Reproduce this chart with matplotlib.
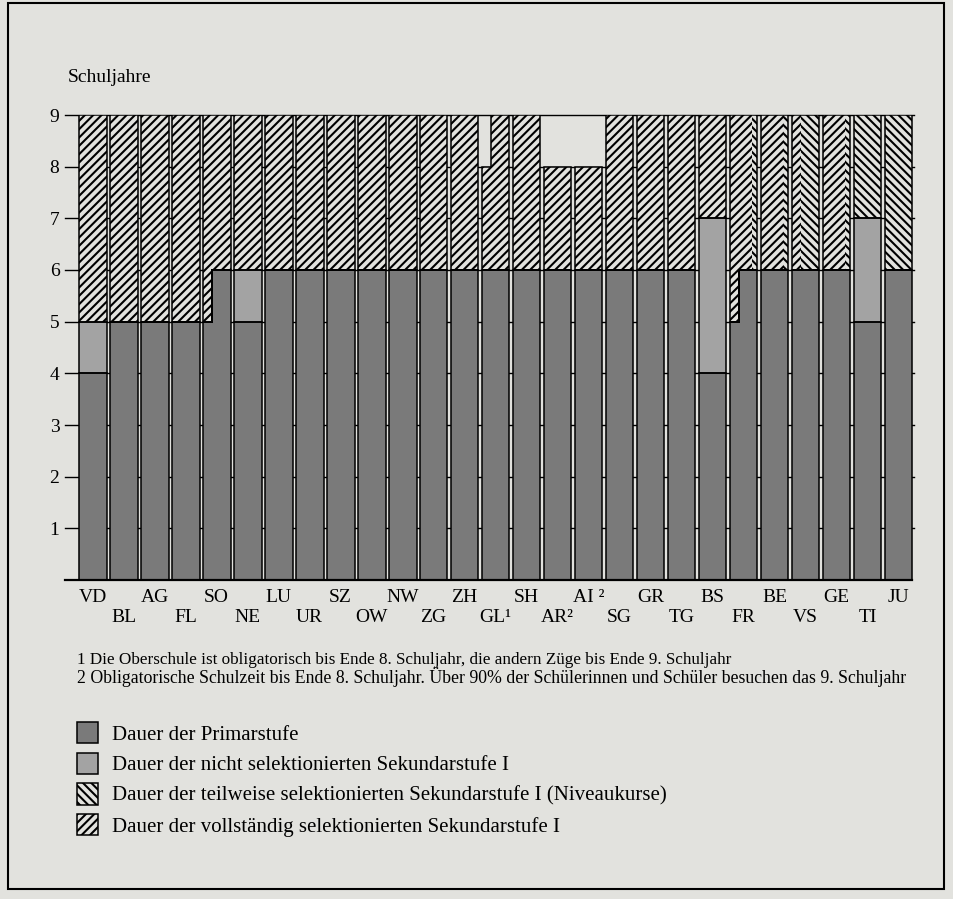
import numpy as np
import matplotlib.pyplot as plt
from matplotlib.patches import Patch, Polygon, Rectangle

plt.rcParams['font.family'] = ['Liberation Serif', 'DejaVu Serif']
plt.rcParams['hatch.linewidth'] = 1.5

# data: Schuljahre je Kanton
cantons = ["VD", "BL", "AG", "FL", "SO", "NE", "LU", "UR", "SZ", "OW", "NW", "ZG", "ZH", "GL\u00b9",
           "SH", "AR\u00b2", "AI \u00b2", "SG", "GR", "TG", "BS", "FR", "BE", "VS", "GE", "TI", "JU"]
primary = [4, 5, 5, 5, 6, 5, 6, 6, 6, 6, 6, 6, 6, 6, 6, 6, 6, 6, 6, 6, 4, 6, 6, 6, 6, 5, 6]
nonsel_end = [5, 5, 5, 5, 6, 6, 6, 6, 6, 6, 6, 6, 6, 6, 6, 6, 6, 6, 6, 6, 7, 6, 6, 6, 6, 7, 6]
total = [9, 9, 9, 9, 9, 9, 9, 9, 9, 9, 9, 9, 9, 9, 9, 8, 8, 9, 9, 9, 9, 9, 9, 9, 9, 9, 9]
# share of the selective part with Niveaukurse (drawn on the right side of the bar)
partial_share = [0, 0, 0, 0, 0, 0, 0, 0, 0, 0, 0, 0, 0, 0,
                 0, 0, 0, 0, 0, 0, 0, 0.2, 0.2, 0.65, 0.2, 1, 1]
# second stream drawn as narrow strip on the left of the bar (None = same as main)
strip_primary = [None, None, None, None, 5, None, None, None, None, None, None, None, None, None,
                 None, None, None, None, None, None, None, 5, None, None, None, None, None]
strip_total = [None, None, None, None, None, None, None, None, None, None, None, None, None, 8,
               None, None, None, None, None, None, None, None, None, None, None, None, None]

legend_labels = ["Dauer der Primarstufe",
                 "Dauer der nicht selektionierten Sekundarstufe I",
                 "Dauer der teilweise selektionierten Sekundarstufe I (Niveaukurse)",
                 "Dauer der vollständig selektionierten Sekundarstufe I"]
footnotes = ["1 Die Oberschule ist obligatorisch bis Ende 8. Schuljahr, die andern Züge bis Ende 9. Schuljahr",
             "2 Obligatorische Schulzeit bis Ende 8. Schuljahr. Über 90% der Schülerinnen und Schüler besuchen das 9. Schuljahr"]

BG = '#e2e2de'
C_PRIM = '#7a7a7a'
C_NONSEL = '#a3a3a3'
W = 954
H = 899


def step_poly(x0, w, sw, lo_l, lo_m, hi_l, hi_m):
    return [(x0, lo_l), (x0 + sw, lo_l), (x0 + sw, lo_m), (x0 + w, lo_m),
            (x0 + w, hi_m), (x0 + sw, hi_m), (x0 + sw, hi_l), (x0, hi_l)]


fig = plt.figure(figsize=(W / 100, H / 100), dpi=100, facecolor=BG)
ax = fig.add_axes([65 / W, 1 - 580 / H, 849 / W, 465 / H])
ax.set_facecolor(BG)
ax.set_xlim(-0.39, len(cantons))
ax.set_ylim(0, 9)

for y in range(1, 10):
    ax.axhline(y, color='black', lw=1.0, zorder=1, clip_on=False)

bw = 0.9
for i in range(len(cantons)):
    x0 = i + (1 - bw) / 2
    sw = 0.33 * bw
    p_m, n_m, t_m = primary[i], nonsel_end[i], total[i]
    p_l = strip_primary[i] if strip_primary[i] is not None else p_m
    n_l = strip_primary[i] if strip_primary[i] is not None else n_m
    t_l = strip_total[i] if strip_total[i] is not None else t_m

    parts = [
        (step_poly(x0, bw, sw, 0, 0, p_l, p_m), C_PRIM, None),
        (step_poly(x0, bw, sw, p_l, p_m, n_l, n_m), C_NONSEL, None),
        (step_poly(x0, bw, sw, n_l, n_m, t_l, t_m), BG, '////'),
    ]
    for verts, fc, hatch in parts:
        ax.add_patch(Polygon(verts, closed=True, facecolor=fc, edgecolor='black',
                             hatch=hatch, lw=0, zorder=2))
    if partial_share[i] > 0:
        pw = bw * partial_share[i]
        ax.add_patch(Rectangle((x0 + bw - pw, n_m), pw, t_m - n_m, facecolor=BG,
                               edgecolor='black', hatch='\\\\\\\\', lw=0, zorder=3))
    for verts, fc, hatch in parts:
        ax.add_patch(Polygon(verts, closed=True, fill=False, edgecolor='black',
                             lw=1.1, zorder=4))

for s in ['top', 'right', 'left']:
    ax.spines[s].set_visible(False)
ax.spines['bottom'].set_linewidth(1.6)
ax.spines['bottom'].set_bounds(-0.39, len(cantons) - 0.05)
ax.set_xticks([])
ax.set_yticks(range(1, 10))
ax.tick_params(axis='y', length=0, pad=4, labelsize=14)

for i, name in enumerate(cantons):
    ypos = -0.038 if i % 2 == 0 else -0.08
    ax.text(i + 0.5, ypos, name, transform=ax.get_xaxis_transform(),
            ha='center', va='center', fontsize=14)

fig.text(68 / W, 1 - 77 / H, "Schuljahre", fontsize=14, va='center', ha='left')

fig.text(77 / W, 1 - 660 / H, footnotes[0], fontsize=12.3, va='center', ha='left')
fig.text(77 / W, 1 - 677 / H, footnotes[1], fontsize=12.8, va='center', ha='left')

handles = [Patch(facecolor=C_PRIM, edgecolor='black', lw=1.1),
           Patch(facecolor=C_NONSEL, edgecolor='black', lw=1.1),
           Patch(facecolor=BG, edgecolor='black', hatch='\\\\\\\\', lw=1.1),
           Patch(facecolor=BG, edgecolor='black', hatch='////', lw=1.1)]
fig.legend(handles, legend_labels, loc='upper left', bbox_to_anchor=(77 / W, 1 - 722 / H),
           frameon=False, fontsize=15, handlelength=1.0, handleheight=1.2,
           labelspacing=0.38, handletextpad=0.7, borderpad=0, borderaxespad=0)

fig.add_artist(Rectangle((8 / W, 1 - 889 / H), 936 / W, 886 / H, transform=fig.transFigure,
                         fill=False, edgecolor='black', lw=1.5))

fig.savefig('out.png', dpi=100, facecolor=BG)
